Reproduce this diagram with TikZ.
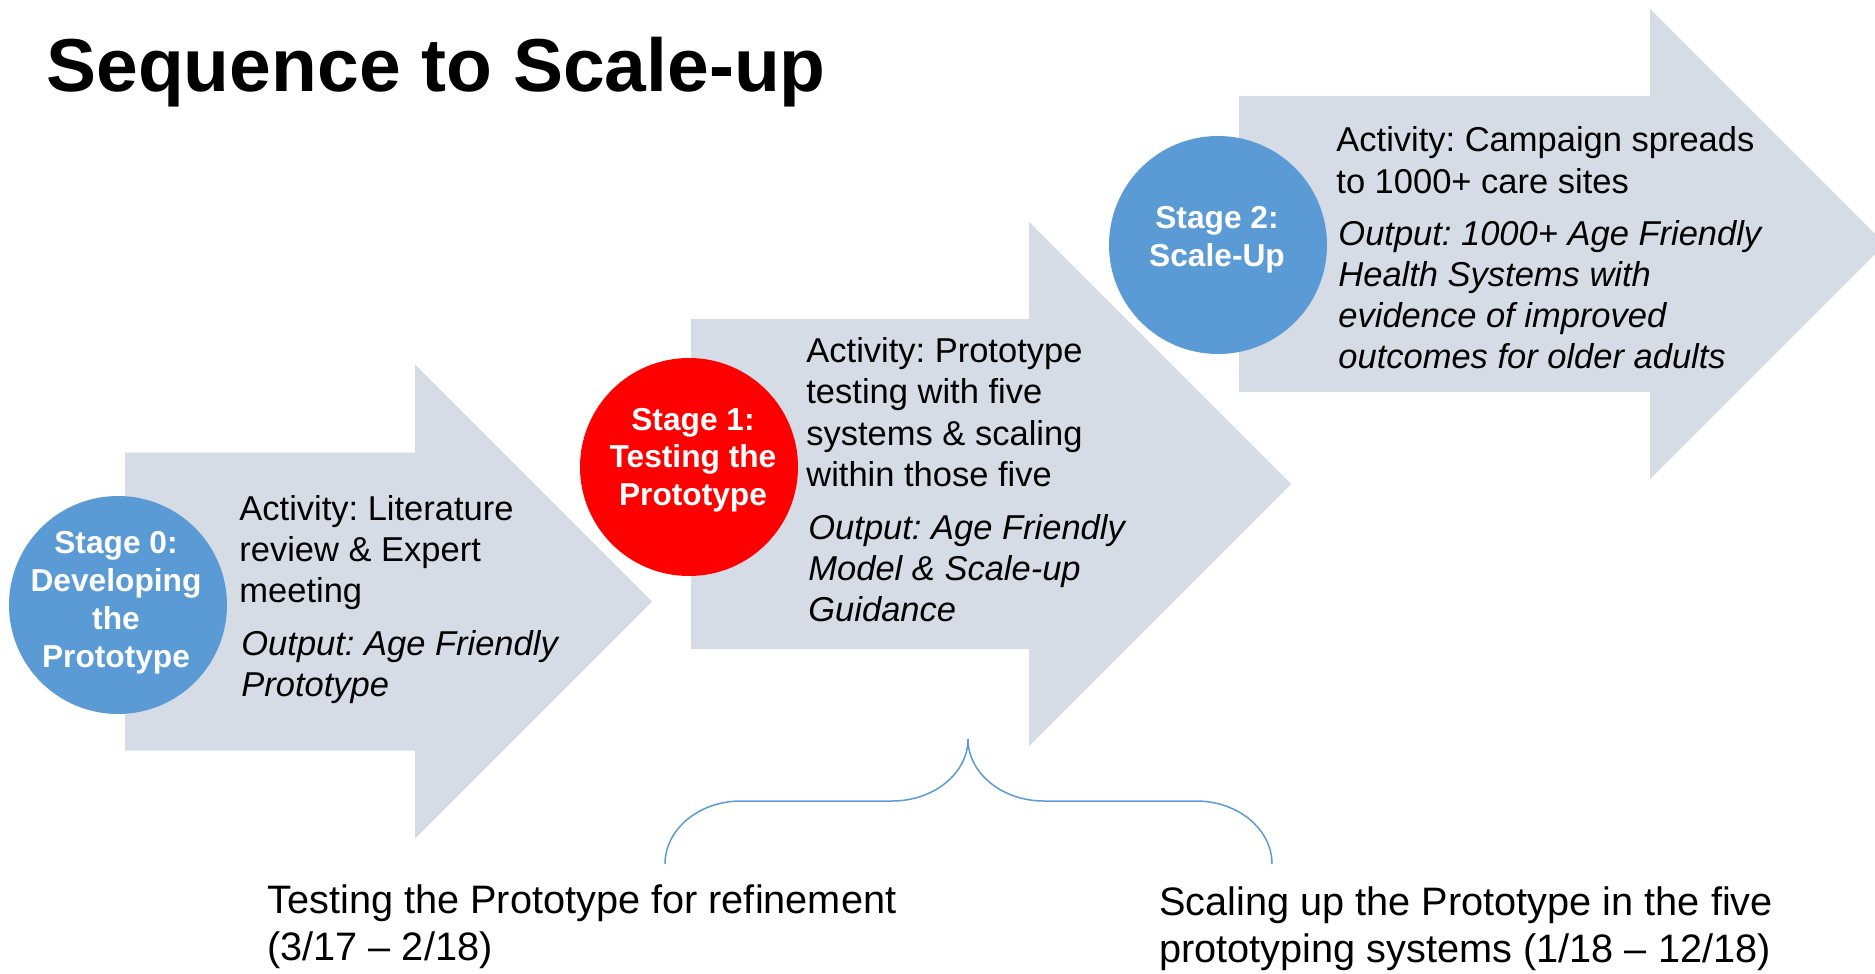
\documentclass[tikz,border=0pt]{standalone}
\usepackage{fontspec}
\setmainfont{Liberation Sans}
\usepackage{tikz}
\usetikzlibrary{calc}
\usepackage{xcolor}
\frenchspacing
\definecolor{arrowgray}{HTML}{D6DCE5}
\definecolor{stageblue}{HTML}{5B9BD5}
\definecolor{stagered}{HTML}{FF0000}
\tikzstyle{arrowfill}=[fill=arrowgray]
\tikzstyle{activity}=[anchor=base west, inner sep=0pt, align=left, font=\fontsize{17.25}{20.65}\selectfont]
\tikzstyle{output}=[activity, font=\fontsize{17.25}{20.65}\selectfont\itshape]
\tikzstyle{stagetext}=[anchor=base, inner sep=0pt, align=center, text=white, font=\fontsize{15.85}{18.85}\selectfont\bfseries]
\tikzstyle{period}=[anchor=base west, inner sep=0pt, align=left, font=\fontsize{19.85}{23.5}\selectfont]
% #1 left end, #2 start of head, #3 middle, #4 half body, #5 half head
\newcommand{\stageArrow}[5]{
	\fill[arrowfill] (#1,{#3-#4}) -- (#2,{#3-#4}) -- (#2,{#3-#5}) -- ({#2+#5},#3)
		-- (#2,{#3+#5}) -- (#2,{#3+#4}) -- (#1,{#3+#4}) -- cycle;
}

\begin{document}
\begin{tikzpicture}[x=0.5pt, y=-0.5pt]
	\useasboundingbox (0,0) rectangle (1875,974);
	\node[anchor=base west, inner sep=0pt, font=\fontsize{37.5}{45}\selectfont\bfseries] (title) at (46,92) {Sequence to Scale-up};

	\stageArrow{125}{415}{601.5}{149}{237}
	\stageArrow{691}{1029}{484}{165}{262}
	\stageArrow{1239}{1650}{244}{148}{235}

	\fill[stageblue] (118,605) circle[radius=54.5pt];
	\fill[stagered] (689,467) circle[radius=54.5pt];
	\fill[stageblue] (1218,245) circle[radius=54.5pt];

	% multi-line nodes sit on their last baseline
	\node[stagetext] (s0) at (116,667) {Stage 0:\\Developing\\the\\Prototype};
	\node[stagetext] (s1) at (693,505.5) {Stage 1:\\Testing the\\Prototype};
	\node[stagetext] (s2) at (1217,266) {Stage 2:\\Scale-Up};

	\node[activity] (act0) at (239,602.6) {Activity: Literature\\review \& Expert\\meeting};
	\node[output] (out0) at (241,696.3) {Output: Age Friendly\\Prototype};
	\node[activity] (act1) at (806,486.4) {Activity: Prototype\\testing with five\\systems \& scaling\\within those five};
	\node[output] (out1) at (808,621.6) {Output: Age Friendly\\Model \& Scale-up\\Guidance};
	\node[activity] (act2) at (1336,193.3) {Activity: Campaign spreads\\to 1000+ care sites};
	\node[output] (out2) at (1338,368.9) {Output: 1000+ Age Friendly\\Health Systems with\\evidence of improved\\outcomes for older adults};

	% brace over the two periods
	\coordinate (bl) at (665,864);
	\draw[stageblue, line width=0.75pt] (bl) arc[start angle=180, end angle=90, x radius=38pt, y radius=31.5pt]
		-- (892,801) arc[start angle=270, end angle=360, x radius=38pt, y radius=31pt]
		arc[start angle=180, end angle=270, x radius=38pt, y radius=31pt]
		-- (1196,801) arc[start angle=90, end angle=0, x radius=38pt, y radius=31.5pt];

	\node[period] (test) at (267,960) {Testing the Prototype for refinement\\(3/17 -- 2/18)};
	\node[period] (scale) at (1159,962.5) {Scaling up the Prototype in the five\\prototyping systems (1/18 -- 12/18)};
\end{tikzpicture}
\end{document}
